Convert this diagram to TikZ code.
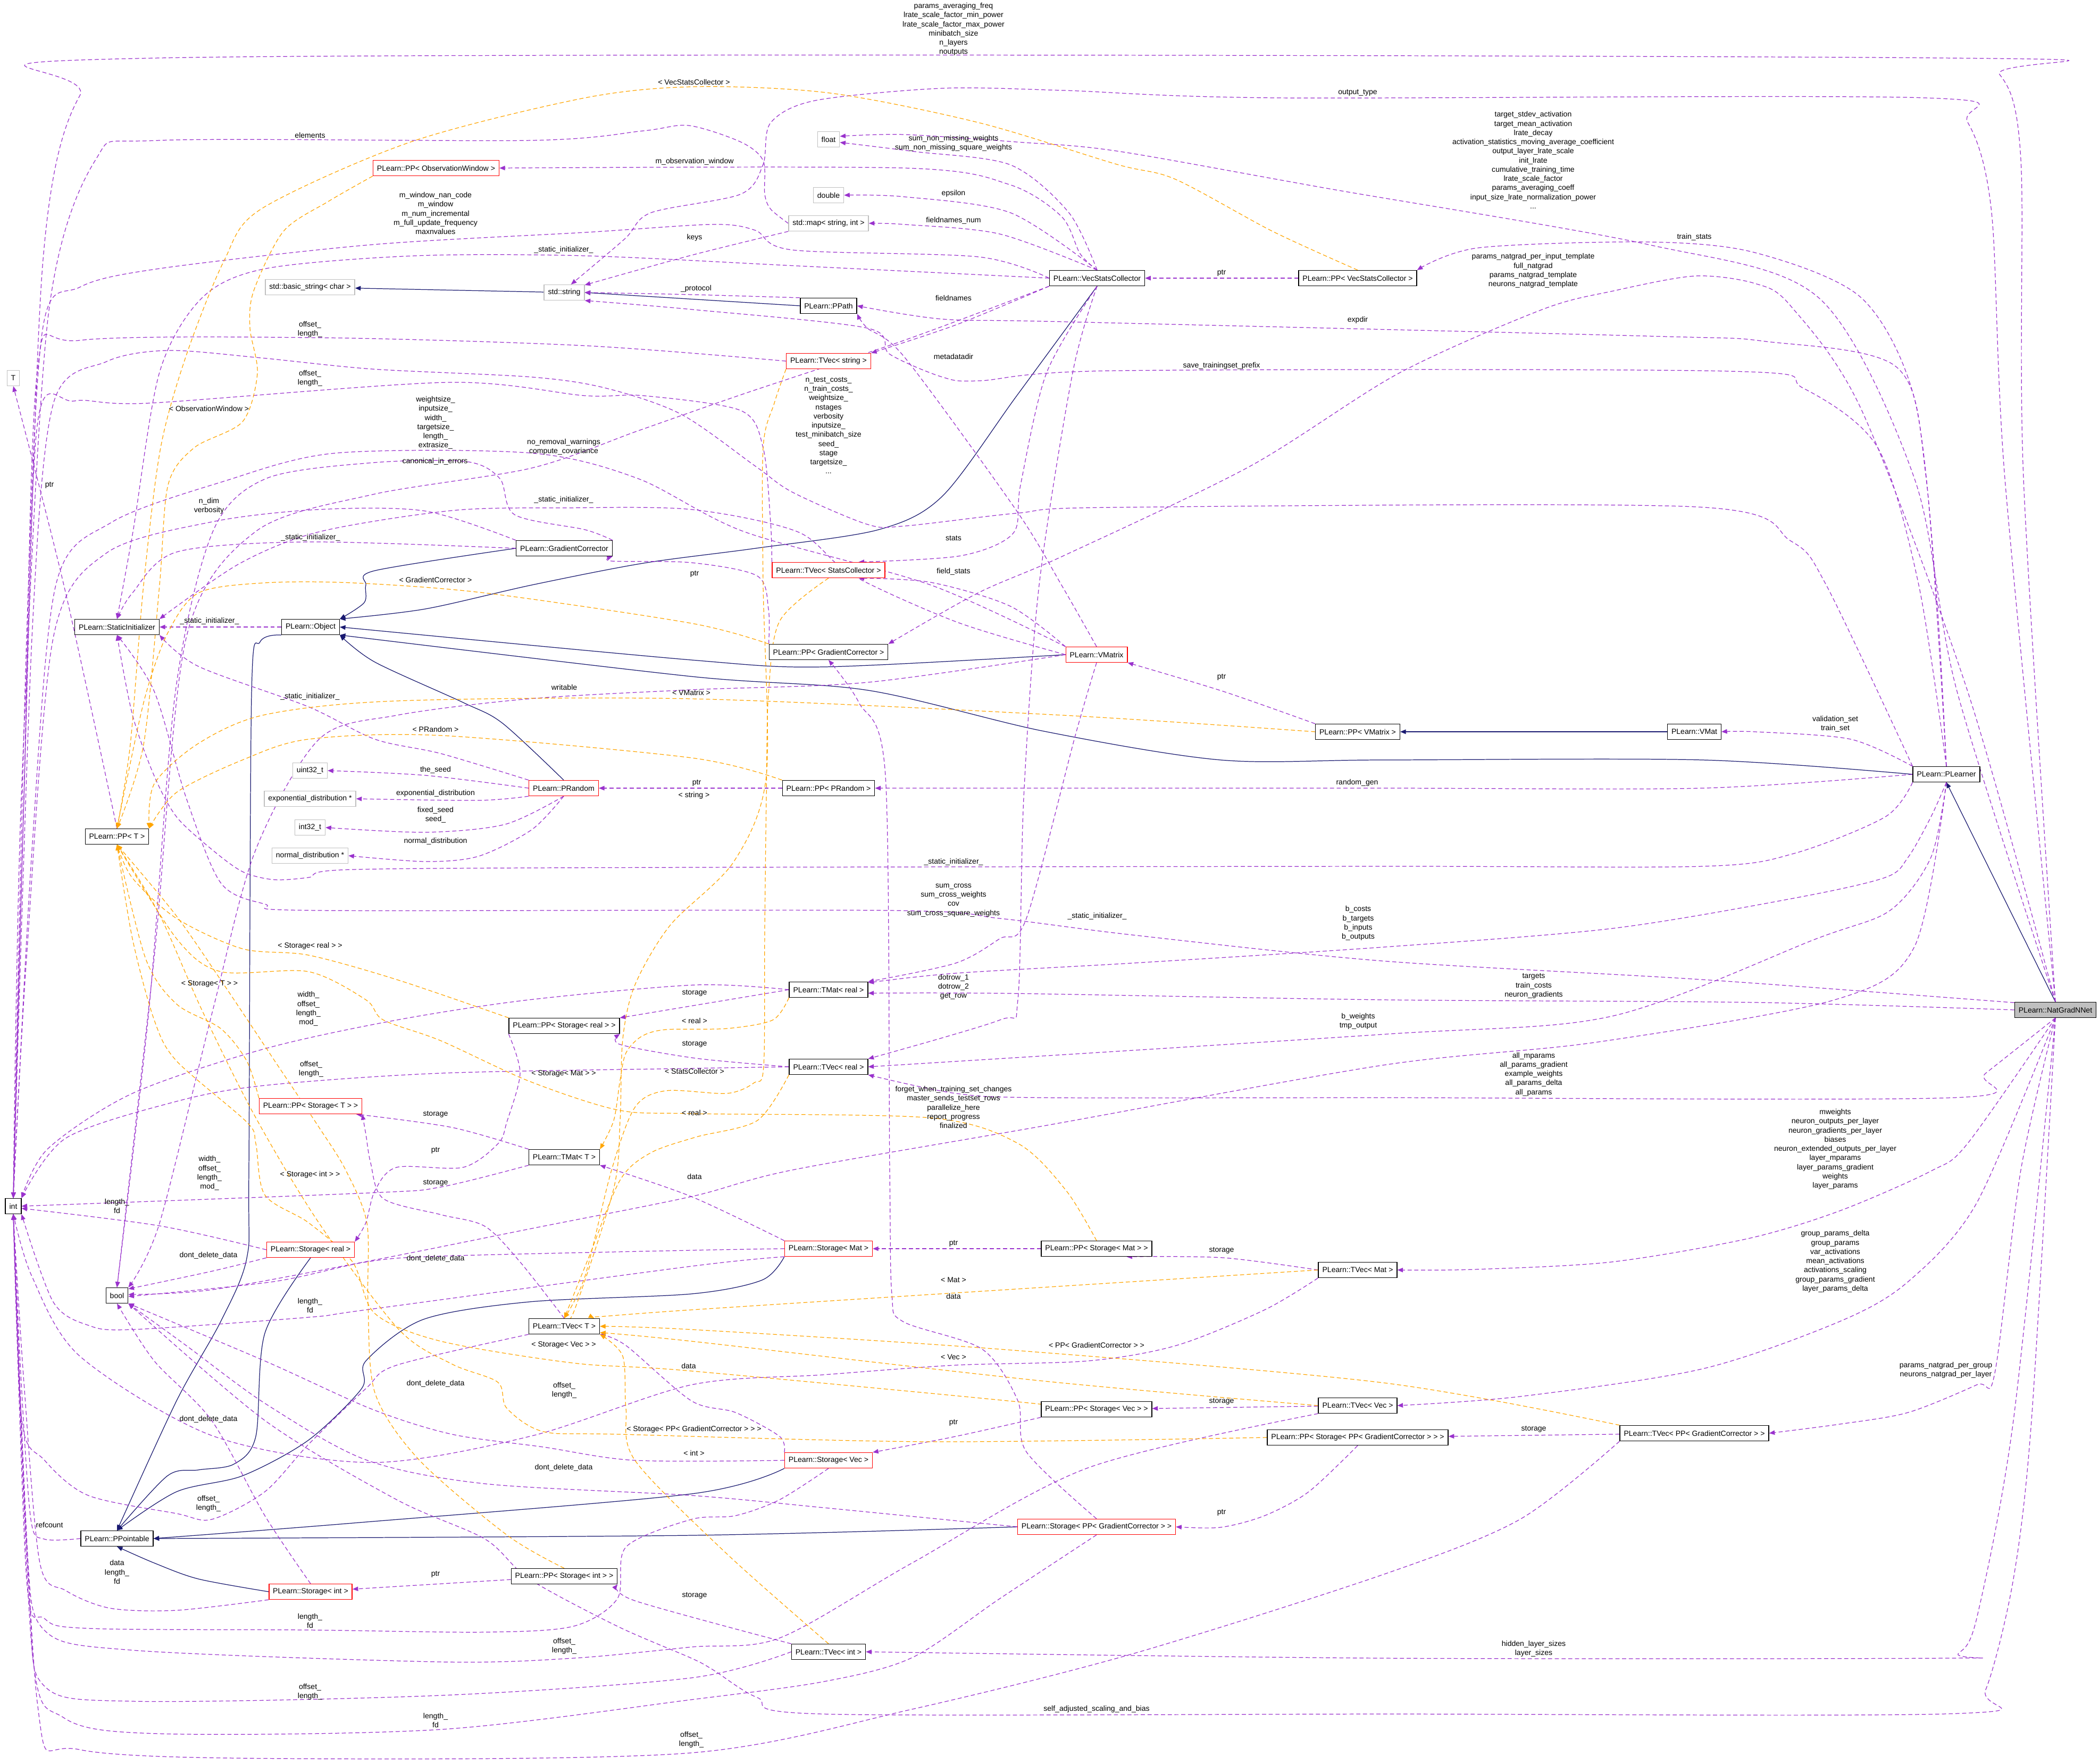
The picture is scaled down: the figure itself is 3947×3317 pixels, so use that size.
\documentclass[tikz,border=0pt]{standalone}
\usepackage{fontspec}
\setmainfont{Liberation Sans}
\usetikzlibrary{arrows.meta}
\definecolor{edgepurple}{RGB}{154,50,205}
\definecolor{tplorange}{RGB}{255,165,0}
\definecolor{inhnavy}{RGB}{25,25,112}
\definecolor{extgray}{RGB}{191,191,191}
\pgfdeclarelayer{bg}
\pgfdeclarelayer{edges}
\pgfsetlayers{bg,edges,main}

\begin{document}
\begin{tikzpicture}[x=0.01cm, y=-0.01cm,
    cls/.style={rectangle, draw=black, line width=0.4pt, fill=white, font=\fontsize{4}{4.9}\selectfont, inner xsep=2.1pt, inner ysep=0pt, minimum height=8.2pt},
    ext/.style={cls, draw=extgray},
    trunc/.style={cls, draw=red},
    mainbox/.style={cls, fill=extgray},
    lbl/.style={font=\fontsize{4}{4.9}\selectfont, align=center, inner sep=0pt},
    mem/.style={draw=edgepurple, line width=0.35pt, dash pattern=on 2.2pt off 1.4pt, -{Triangle[length=3pt,width=2.4pt]}},
    tpl/.style={mem, draw=tplorange},
    inh/.style={draw=inhnavy, line width=0.35pt, -{Triangle[length=3pt,width=2.4pt]}}
]
    \useasboundingbox (0,0) rectangle (3947,3317);
    \begin{pgfonlayer}{bg}
        \fill[white] (0,0) rectangle (3947,3317);
    \end{pgfonlayer}

    % classes
    \node[trunc] (obswin) at (820,316) {PLearn::PP< ObservationWindow >};
    \node[ext] (bstr) at (583,540) {std::basic\_string< char >};
    \node[ext] (str) at (1061,550) {std::string};
    \node[ext] (T) at (25,711) {T};
    \node[cls] (gc) at (1061,1031) {PLearn::GradientCorrector};
    \node[ext] (flt) at (1558,262) {float};
    \node[ext] (dbl) at (1558,367) {double};
    \node[ext] (smap) at (1558,420) {std::map< string, int >};
    \node[cls] (ppath) at (1558,575) {PLearn::PPath};
    \node[trunc] (tvstr) at (1558,679) {PLearn::TVec< string >};
    \node[cls] (vsc) at (2063,523) {PLearn::VecStatsCollector};
    \node[cls] (ppvsc) at (2553,523) {PLearn::PP< VecStatsCollector >};
    \node[trunc] (tvsc) at (1558,1072) {PLearn::TVec< StatsCollector >};
    \node[cls] (sinit) at (220,1179) {PLearn::StaticInitializer};
    \node[cls] (obj) at (584,1179) {PLearn::Object};
    \node[trunc] (prand) at (1060,1482) {PLearn::PRandom};
    \node[ext] (u32) at (583,1449) {uint32\_t};
    \node[ext] (expd) at (583,1502) {exponential\_distribution *};
    \node[ext] (i32) at (583,1556) {int32\_t};
    \node[ext] (normd) at (583,1609) {normal\_distribution *};
    \node[cls] (ppt) at (220,1573) {PLearn::PP< T >};
    \node[cls] (ppgc) at (1558,1226) {PLearn::PP< GradientCorrector >};
    \node[trunc] (vmatrix) at (2062,1231) {PLearn::VMatrix};
    \node[cls] (ppvm) at (2553,1376) {PLearn::PP< VMatrix >};
    \node[cls] (vmat) at (3186,1376) {PLearn::VMat};
    \node[cls] (ppprand) at (1558,1482) {PLearn::PP< PRandom >};
    \node[cls] (plearner) at (3660,1456) {PLearn::PLearner};
    \node[mainbox] (nnet) at (3865,1899) {PLearn::NatGradNNet};
    \node[cls] (tmatr) at (1558,1861) {PLearn::TMat< real >};
    \node[cls] (tvecr) at (1558,2006) {PLearn::TVec< real >};
    \node[cls] (ppsr) at (1061,1929) {PLearn::PP< Storage< real > >};
    \node[trunc] (ppst) at (584,2080) {PLearn::PP< Storage< T > >};
    \node[cls] (tmatt) at (1061,2176) {PLearn::TMat< T >};
    \node[cls] (nint) at (25,2268) {int};
    \node[cls] (nbool) at (220,2436) {bool};
    \node[trunc] (stor) at (584,2350) {PLearn::Storage< real >};
    \node[cls] (tvect) at (1061,2494) {PLearn::TVec< T >};
    \node[trunc] (stmat) at (1558,2348) {PLearn::Storage< Mat >};
    \node[cls] (ppsm) at (2062,2348) {PLearn::PP< Storage< Mat > >};
    \node[cls] (tvmat) at (2553,2388) {PLearn::TVec< Mat >};
    \node[cls] (ppsv) at (2062,2650) {PLearn::PP< Storage< Vec > >};
    \node[cls] (tvvec) at (2553,2643) {PLearn::TVec< Vec >};
    \node[cls] (ppspgc) at (2553,2703) {PLearn::PP< Storage< PP< GradientCorrector > > >};
    \node[cls] (tvpgc) at (3186,2695) {PLearn::TVec< PP< GradientCorrector > >};
    \node[trunc] (stvec) at (1558,2746) {PLearn::Storage< Vec >};
    \node[trunc] (stpgc) at (2062,2871) {PLearn::Storage< PP< GradientCorrector > >};
    \node[cls] (pptbl) at (220,2893) {PLearn::PPointable};
    \node[cls] (ppsi) at (1061,2964) {PLearn::PP< Storage< int > >};
    \node[trunc] (stint) at (584,2993) {PLearn::Storage< int >};
    \node[cls] (tvint) at (1558,3106) {PLearn::TVec< int >};

    % edge labels
    \node[lbl] (l1) at (1793,55) {params\_averaging\_freq\\lrate\_scale\_factor\_min\_power\\lrate\_scale\_factor\_max\_power\\minibatch\_size\\n\_layers\\noutputs};
    \node[lbl] (l2) at (1305,154) {< VecStatsCollector >};
    \node[lbl] (l3) at (2553,174) {output\_type};
    \node[lbl] (l4) at (583,254) {elements};
    \node[lbl] (l5) at (1793,269) {sum\_non\_missing\_weights\\sum\_non\_missing\_square\_weights};
    \node[lbl] (l6) at (2883,301) {target\_stdev\_activation\\target\_mean\_activation\\lrate\_decay\\activation\_statistics\_moving\_average\_coefficient\\output\_layer\_lrate\_scale\\init\_lrate\\cumulative\_training\_time\\lrate\_scale\_factor\\params\_averaging\_coeff\\input\_size\_lrate\_normalization\_power\\...};
    \node[lbl] (l7) at (1306,304) {m\_observation\_window};
    \node[lbl] (l8) at (1793,364) {epsilon};
    \node[lbl] (l9) at (819,401) {m\_window\_nan\_code\\m\_window\\m\_num\_incremental\\m\_full\_update\_frequency\\maxnvalues};
    \node[lbl] (l10) at (1793,415) {fieldnames\_num};
    \node[lbl] (l11) at (1306,447) {keys};
    \node[lbl] (l12) at (3186,446) {train\_stats};
    \node[lbl] (l13) at (1060,470) {\_static\_initializer\_};
    \node[lbl] (l14) at (2883,509) {params\_natgrad\_per\_input\_template\\full\_natgrad\\params\_natgrad\_template\\neurons\_natgrad\_template};
    \node[lbl] (l15) at (2297,513) {ptr};
    \node[lbl] (l16) at (1309,543) {\_protocol};
    \node[lbl] (l17) at (1793,560) {fieldnames};
    \node[lbl] (l18) at (2553,602) {expdir};
    \node[lbl] (l19) at (583,619) {offset\_\\length\_};
    \node[lbl] (l20) at (1793,670) {metadatadir};
    \node[lbl] (l21) at (2297,688) {save\_trainingset\_prefix};
    \node[lbl] (l22) at (583,711) {offset\_\\length\_};
    \node[lbl] (l23) at (1558,800) {n\_test\_costs\_\\n\_train\_costs\_\\weightsize\_\\nstages\\verbosity\\inputsize\_\\test\_minibatch\_size\\seed\_\\stage\\targetsize\_\\...};
    \node[lbl] (l24) at (393,768) {< ObservationWindow >};
    \node[lbl] (l25) at (819,795) {weightsize\_\\inputsize\_\\width\_\\targetsize\_\\length\_\\extrasize\_};
    \node[lbl] (l26) at (1060,840) {no\_removal\_warnings\\compute\_covariance};
    \node[lbl] (l27) at (818,868) {canonical\_in\_errors};
    \node[lbl] (l28) at (93,912) {ptr};
    \node[lbl] (l29) at (1060,940) {\_static\_initializer\_};
    \node[lbl] (l30) at (393,951) {n\_dim\\verbosity};
    \node[lbl] (l31) at (1793,1012) {stats};
    \node[lbl] (l32) at (584,1011) {\_static\_initializer\_};
    \node[lbl] (l33) at (1306,1079) {ptr};
    \node[lbl] (l34) at (1793,1075) {field\_stats};
    \node[lbl] (l35) at (819,1090) {< GradientCorrector >};
    \node[lbl] (l36) at (394,1168) {\_static\_initializer\_};
    \node[lbl] (l37) at (2297,1273) {ptr};
    \node[lbl] (l38) at (1061,1292) {writable};
    \node[lbl] (l39) at (1300,1302) {< VMatrix >};
    \node[lbl] (l40) at (583,1310) {\_static\_initializer\_};
    \node[lbl] (l41) at (819,1371) {< PRandom >};
    \node[lbl] (l42) at (3451,1361) {validation\_set\\train\_set};
    \node[lbl] (l43) at (819,1448) {the\_seed};
    \node[lbl] (l44) at (1310,1472) {ptr};
    \node[lbl] (l45) at (2552,1472) {random\_gen};
    \node[lbl] (l46) at (819,1492) {exponential\_distribution};
    \node[lbl] (l47) at (1305,1496) {< string >};
    \node[lbl] (l48) at (819,1532) {fixed\_seed\\seed\_};
    \node[lbl] (l49) at (819,1582) {normal\_distribution};
    \node[lbl] (l50) at (1793,1621) {\_static\_initializer\_};
    \node[lbl] (l51) at (1793,1693) {sum\_cross\\sum\_cross\_weights\\cov\\sum\_cross\_square\_weights};
    \node[lbl] (l52) at (2063,1723) {\_static\_initializer\_};
    \node[lbl] (l53) at (2554,1736) {b\_costs\\b\_targets\\b\_inputs\\b\_outputs};
    \node[lbl] (l54) at (583,1779) {< Storage< real > >};
    \node[lbl] (l55) at (394,1850) {< Storage< T > >};
    \node[lbl] (l56) at (2884,1854) {targets\\train\_costs\\neuron\_gradients};
    \node[lbl] (l57) at (1793,1856) {dotrow\_1\\dotrow\_2\\get\_row};
    \node[lbl] (l58) at (1306,1867) {storage};
    \node[lbl] (l59) at (580,1897) {width\_\\offset\_\\length\_\\mod\_};
    \node[lbl] (l60) at (1306,1919) {< real >};
    \node[lbl] (l61) at (2554,1920) {b\_weights\\tmp\_output};
    \node[lbl] (l62) at (1306,1963) {storage};
    \node[lbl] (l63) at (585,2010) {offset\_\\length\_};
    \node[lbl] (l64) at (1306,2014) {< StatsCollector >};
    \node[lbl] (l65) at (1060,2019) {< Storage< Mat > >};
    \node[lbl] (l66) at (2884,2020) {all\_mparams\\all\_params\_gradient\\example\_weights\\all\_params\_delta\\all\_params};
    \node[lbl] (l67) at (1793,2082) {forget\_when\_training\_set\_changes\\master\_sends\_testset\_rows\\parallelize\_here\\report\_progress\\finalized};
    \node[lbl] (l68) at (1306,2092) {< real >};
    \node[lbl] (l69) at (819,2095) {storage};
    \node[lbl] (l70) at (3451,2161) {mweights\\neuron\_outputs\_per\_layer\\neuron\_gradients\_per\_layer\\biases\\neuron\_extended\_outputs\_per\_layer\\layer\_mparams\\layer\_params\_gradient\\weights\\layer\_params};
    \node[lbl] (l71) at (819,2163) {ptr};
    \node[lbl] (l72) at (394,2206) {width\_\\offset\_\\length\_\\mod\_};
    \node[lbl] (l73) at (583,2209) {< Storage< int > >};
    \node[lbl] (l74) at (1306,2212) {data};
    \node[lbl] (l75) at (819,2224) {storage};
    \node[lbl] (l76) at (220,2268) {length\_\\fd};
    \node[lbl] (l77) at (1793,2338) {ptr};
    \node[lbl] (l78) at (2297,2351) {storage};
    \node[lbl] (l79) at (392,2361) {dont\_delete\_data};
    \node[lbl] (l80) at (819,2367) {dont\_delete\_data};
    \node[lbl] (l81) at (3451,2372) {group\_params\_delta\\group\_params\\var\_activations\\mean\_activations\\activations\_scaling\\group\_params\_gradient\\layer\_params\_delta};
    \node[lbl] (l82) at (1793,2407) {< Mat >};
    \node[lbl] (l83) at (1793,2437) {data};
    \node[lbl] (l84) at (583,2455) {length\_\\fd};
    \node[lbl] (l85) at (1060,2529) {< Storage< Vec > >};
    \node[lbl] (l86) at (2062,2529) {< PP< GradientCorrector > >};
    \node[lbl] (l87) at (1793,2552) {< Vec >};
    \node[lbl] (l88) at (1295,2568) {data};
    \node[lbl] (l89) at (3659,2576) {params\_natgrad\_per\_group\\neurons\_natgrad\_per\_layer};
    \node[lbl] (l90) at (819,2602) {dont\_delete\_data};
    \node[lbl] (l91) at (1061,2614) {offset\_\\length\_};
    \node[lbl] (l92) at (2297,2635) {storage};
    \node[lbl] (l93) at (392,2669) {dont\_delete\_data};
    \node[lbl] (l94) at (1793,2675) {ptr};
    \node[lbl] (l95) at (2884,2687) {storage};
    \node[lbl] (l96) at (1305,2688) {< Storage< PP< GradientCorrector > > >};
    \node[lbl] (l97) at (1305,2732) {< int >};
    \node[lbl] (l98) at (1060,2760) {dont\_delete\_data};
    \node[lbl] (l99) at (392,2827) {offset\_\\length\_};
    \node[lbl] (l100) at (2297,2844) {ptr};
    \node[lbl] (l101) at (93,2867) {refcount};
    \node[lbl] (l102) at (220,2956) {data\\length\_\\fd};
    \node[lbl] (l103) at (819,2960) {ptr};
    \node[lbl] (l104) at (1306,3000) {storage};
    \node[lbl] (l105) at (583,3048) {length\_\\fd};
    \node[lbl] (l106) at (1061,3095) {offset\_\\length\_};
    \node[lbl] (l107) at (2884,3100) {hidden\_layer\_sizes\\layer\_sizes};
    \node[lbl] (l108) at (583,3181) {offset\_\\length\_};
    \node[lbl] (l109) at (2062,3214) {self\_adjusted\_scaling\_and\_bias};
    \node[lbl] (l110) at (819,3235) {length\_\\fd};
    \node[lbl] (l111) at (1300,3271) {offset\_\\length\_};

    \begin{pgfonlayer}{edges}
    % inheritance
    \draw[inh] (str) -- (bstr);
    \draw[inh] (ppath.west) -- (str.east);
    \draw[inh] plot[smooth] coordinates {(vsc.south) (1912,744) (1772,933) (1652,996) (1421,1031) (1210,1059) (1000,1100) (800,1145) (obj.north east)};
    \draw[inh] plot[smooth] coordinates {(gc.west) (705,1073) (688,1100) (685,1133) (obj.north east)};
    \draw[inh] plot[smooth] coordinates {(vmatrix.west) (1549,1254) (1300,1241) (obj.east)};
    \draw[inh] plot[smooth] coordinates {(plearner.west) (3201,1429) (2600,1429) (2295,1429) (1963,1375) (1632,1298) (1300,1272) (obj.south east)};
    \draw[inh] plot[smooth] coordinates {(prand.north) (945,1360) (871,1321) (705,1245) (obj.south east)};
    \draw[inh] plot[smooth] coordinates {(obj.south west) (489,1207) (473,1306) (468,2200) (464,2366) (415,2485) (332,2634) (pptbl.north)};
    \draw[inh] plot[smooth] coordinates {(stor.south) (498,2507) (481,2701) (440,2753) (373,2764) (315,2775) (pptbl.north)};
    \draw[inh] plot[smooth] coordinates {(stmat.south west) (1433,2407) (1300,2433) (995,2448) (796,2481) (688,2559) (680,2611) (580,2708) (456,2775) (332,2805) (pptbl.north)};
    \draw[inh] plot[smooth] coordinates {(stvec.south west) (1300,2809) (663,2864) (pptbl.east)};
    \draw[inh] plot[smooth] coordinates {(stpgc.west) (1300,2887) (pptbl.east)};
    \draw[inh] plot[smooth] coordinates {(stint.west) (373,2969) (290,2939) (pptbl.south)};
    \draw[inh] (vmat) -- (ppvm);
    \draw[inh] (nnet.north) -- (plearner.south);

    % members
    \draw[mem] plot[smooth] coordinates {(nnet.north) (3805,900) (3800,300) (3760,140) (3650,109) (300,109) (150,180) (80,500) (45,1500) (nint.north)};
    \draw[mem] plot[smooth] coordinates {(nnet.north) (3770,900) (3745,400) (3700,230) (3620,184) (2400,184) (2000,170) (1772,166) (1533,189) (1449,231) (1435,309) (1393,365) (1224,400) (1175,449) (str.50)};
    \draw[mem] plot[smooth] coordinates {(nnet.north) (3680,1300) (3600,900) (3420,560) (3100,460) (2500,355) (2100,284) (1912,267) (1700,253) (flt.15)};
    \draw[mem] plot[smooth] coordinates {(plearner.north) (3640,1100) (3600,750) (3500,560) (3300,475) (3100,455) (2780,466) (ppvsc.north east)};
    \draw[mem] plot[smooth] coordinates {(nnet.north) (3700,1300) (3501,772) (3367,575) (3300,533) (3187,519) (3034,547) (2900,582) (2630,702) (2350,877) (2000,1045) (1839,1115) (ppgc.north east)};
    \draw[mem] (ppvsc) -- (vsc);
    \draw[mem] plot[smooth] coordinates {(vsc.north) (2031,477) (1996,407) (1898,347) (1702,316) (obswin.east)};
    \draw[mem] plot[smooth] coordinates {(vsc.north) (2010,400) (1900,310) (1720,285) (flt.-15)};
    \draw[mem] plot[smooth] coordinates {(vsc.north) (1900,400) (1700,370) (dbl.east)};
    \draw[mem] plot[smooth] coordinates {(vsc.north) (1880,440) (1700,422) (smap.east)};
    \draw[mem] plot[smooth] coordinates {(vsc.west) (1840,483) (1490,470) (1420,433) (1340,422) (1100,437) (700,460) (300,505) (150,540) (80,620) (50,1200) (nint.north)};
    \draw[mem] plot[smooth] coordinates {(smap.west) (1449,393) (1438,365) (1435,302) (1393,267) (1295,236) (1210,246) (1000,264) (300,264) (180,300) (90,600) (40,1500) (nint.north)};
    \draw[mem] plot[smooth] coordinates {(smap.south west) (1300,480) (str.20)};
    \draw[mem] plot[smooth] coordinates {(vsc.west) (1500,500) (1100,481) (780,481) (500,505) (380,560) (300,700) (250,1000) (sinit.north)};
    \draw[mem] plot[smooth] coordinates {(ppath.north west) (1302,554) (str.east)};
    \draw[mem] plot[smooth] coordinates {(vsc.south west) (1800,610) (tvstr.north east)};
    \draw[mem] plot[smooth] coordinates {(plearner.north) (3622,900) (3566,690) (3320,642) (3100,632) (2000,605) (1772,600) (ppath.east)};
    \draw[mem] plot[smooth] coordinates {(tvstr.west) (1100,650) (600,635) (150,640) (70,700) (45,1500) (nint.north)};
    \draw[mem] plot[smooth] coordinates {(vmatrix.north) (1996,1100) (1912,961) (1702,673) (1631,617) (ppath.south east)};
    \draw[mem] plot[smooth] coordinates {(plearner.north) (3608,1100) (3531,842) (3391,730) (3251,698) (2100,697) (1842,716) (1772,709) (1673,666) (1631,617) (1302,582) (str.south east)};
    \draw[mem] plot[smooth] coordinates {(tvsc.north west) (1449,982) (1435,842) (1393,772) (1210,744) (1100,744) (842,719) (281,758) (140,754) (70,800) (45,1500) (nint.north)};
    \draw[mem] plot[smooth] coordinates {(plearner.north west) (3434,1100) (3367,1017) (3187,953) (2100,954) (1912,965) (1702,989) (1631,986) (1491,926) (1421,877) (1281,779) (1140,730) (1000,709) (701,694) (491,673) (316,659) (200,680) (100,760) (60,1200) (nint.north)};
    \draw[mem] plot[smooth] coordinates {(vmatrix.north west) (1750,1100) (1400,1000) (1200,900) (1000,852) (631,852) (421,905) (210,982) (105,1100) (60,1600) (nint.north)};
    \draw[mem] plot[smooth] coordinates {(vsc.south west) (1700,640) (1400,740) (1200,810) (1000,880) (700,930) (480,1000) (350,1200) (290,1800) (nbool.north)};
    \draw[mem] plot[smooth] coordinates {(gc.north east) (1100,996) (968,968) (940,900) (877,868) (701,870) (500,900) (400,1000) (330,1300) (280,1900) (nbool.north)};
    \draw[mem] plot[smooth] coordinates {(ppt.north) (120,1100) (T.south)};
    \draw[mem] plot[smooth] coordinates {(vmatrix.west) (1800,1170) (1600,1080) (1500,1000) (1300,958) (1060,955) (850,960) (600,1000) (450,1060) (sinit.north east)};
    \draw[mem] plot[smooth] coordinates {(gc.north west) (800,961) (600,958) (400,981) (200,1040) (100,1200) (50,1800) (nint.north)};
    \draw[mem] plot[smooth] coordinates {(vsc.south) (1968,701) (1919,912) (1905,1003) (1807,1045) (tvsc.15)};
    \draw[mem] plot[smooth] coordinates {(gc.west) (580,1019) (332,1038) (249,1115) (sinit.north)};
    \draw[mem] plot[smooth] coordinates {(ppgc.north west) (1445,1145) (1424,1083) (1300,1058) (1150,1055) (gc.south east)};
    \draw[mem] plot[smooth] coordinates {(vmatrix.north west) (1900,1140) (1750,1095) (tvsc.-15)};
    \draw[mem] (obj) -- (sinit);
    \draw[mem] plot[smooth] coordinates {(ppvm.north west) (2300,1300) (vmatrix.south east)};
    \draw[mem] plot[smooth] coordinates {(vmatrix.west) (1632,1283) (1300,1297) (995,1314) (746,1345) (600,1390) (480,1600) (400,1900) (300,2300) (nbool.north east)};
    \draw[mem] plot[smooth] coordinates {(prand.north west) (829,1417) (705,1390) (580,1329) (373,1253) (sinit.south east)};
    \draw[mem] plot[smooth] coordinates {(prand.west) (800,1458) (u32.east)};
    \draw[mem] (ppprand) -- (prand);
    \draw[mem] plot[smooth] coordinates {(plearner.west) (3201,1482) (2600,1482) (ppprand.east)};
    \draw[mem] plot[smooth] coordinates {(prand.south west) (900,1505) (expd.east)};
    \draw[mem] plot[smooth] coordinates {(prand.south) (950,1550) (800,1565) (i32.east)};
    \draw[mem] plot[smooth] coordinates {(prand.south) (1000,1560) (900,1610) (800,1620) (normd.east)};
    \draw[mem] plot[smooth] coordinates {(plearner.north west) (3480,1390) (3300,1376) (vmat.east)};
    \draw[mem] plot[smooth] coordinates {(plearner.south west) (3545,1536) (3373,1605) (3201,1629) (2600,1629) (1300,1631) (663,1635) (580,1650) (514,1654) (456,1639) (398,1597) (332,1536) (290,1459) (249,1344) (sinit.south)};
    \draw[mem] plot[smooth] coordinates {(vsc.south) (2017,701) (1954,1100) (1925,1500) (1914,1880) (1880,1918) (tvecr.north east)};
    \draw[mem] plot[smooth] coordinates {(vmatrix.south) (2022,1383) (1930,1727) (1880,1765) (1797,1811) (tmatr.north east)};
    \draw[mem] plot[smooth] coordinates {(nnet.170) (3201,1842) (2600,1807) (2129,1758) (1880,1727) (1673,1712) (600,1712) (498,1700) (415,1660) (350,1500) (290,1300) (sinit.south)};
    \draw[mem] plot[smooth] coordinates {(plearner.south) (3631,1536) (3588,1612) (3545,1650) (3373,1689) (3030,1746) (2600,1781) (2129,1811) (1797,1830) (tmatr.10)};
    \draw[mem] plot[smooth] coordinates {(nnet.west) (3300,1885) (2600,1880) (1900,1868) (tmatr.-5)};
    \draw[mem] plot[smooth] coordinates {(tmatr.west) (1309,1890) (ppsr.north east)};
    \draw[mem] plot[smooth] coordinates {(tmatr.west) (1309,1852) (995,1880) (746,1918) (498,1972) (249,2056) (90,2160) (nint.north east)};
    \draw[mem] plot[smooth] coordinates {(plearner.south) (3631,1612) (3554,1712) (3416,1765) (3030,1911) (2600,1945) (tvecr.east)};
    \draw[mem] plot[smooth] coordinates {(tvecr.west) (1309,1990) (1166,1964) (ppsr.south east)};
    \draw[mem] plot[smooth] coordinates {(tvecr.west) (1300,2009) (829,2018) (498,2041) (332,2071) (124,2140) (nint.north east)};
    \draw[mem] plot[smooth] coordinates {(nnet.south) (3734,2018) (3674,2064) (2600,2064) (1963,2064) (1797,2056) (tvecr.south east)};
    \draw[mem] plot[smooth] coordinates {(plearner.south) (3600,1780) (3450,1880) (3000,1960) (2600,2003) (1963,2117) (1490,2200) (1300,2250) (1000,2310) (700,2370) (400,2425) (nbool.5)};
    \draw[mem] plot[smooth] coordinates {(tmatt.north west) (850,2120) (ppst.-10)};
    \draw[mem] plot[smooth] coordinates {(nnet.south) (3700,2150) (3631,2202) (3459,2277) (3287,2329) (3030,2373) (2772,2387) (tvmat.east)};
    \draw[mem] plot[smooth] coordinates {(ppsr.south west) (978,2018) (953,2110) (937,2150) (871,2195) (746,2195) (705,2239) (688,2299) (stor.north east)};
    \draw[mem] plot[smooth] coordinates {(tmatt.south west) (829,2232) (697,2243) (nint.east)};
    \draw[mem] plot[smooth] coordinates {(stmat.north west) (1300,2250) (tmatt.south east)};
    \draw[mem] plot[smooth] coordinates {(tvect.north) (978,2373) (912,2306) (829,2284) (721,2254) (697,2187) (688,2133) (ppst.south east)};
    \draw[mem] plot[smooth] coordinates {(stor.west) (300,2305) (nint.-15)};
    \draw[mem] (ppsm) -- (stmat);
    \draw[mem] plot[smooth] coordinates {(tvmat.west) (2300,2365) (ppsm.-15)};
    \draw[mem] plot[smooth] coordinates {(stor.south west) (400,2390) (nbool.30)};
    \draw[mem] plot[smooth] coordinates {(stmat.west) (1300,2351) (829,2362) (688,2373) (514,2410) (nbool.-5)};
    \draw[mem] plot[smooth] coordinates {(nnet.south) (3717,2262) (3588,2410) (3459,2485) (3201,2574) (2858,2626) (tvvec.east)};
    \draw[mem] plot[smooth] coordinates {(stpgc.north) (1930,2730) (1914,2634) (1847,2537) (1698,2485) (1677,2433) (1673,2200) (1665,1459) (1615,1321) (ppgc.south)};
    \draw[mem] plot[smooth] coordinates {(stmat.south west) (1300,2381) (688,2463) (580,2477) (249,2500) (166,2492) (100,2448) (nint.south east)};
    \draw[mem] plot[smooth] coordinates {(stvec.north west) (1466,2701) (1383,2656) (1300,2634) (1177,2530) (tvect.south east)};
    \draw[mem] plot[smooth] coordinates {(nnet.south) (3800,2200) (3751,2582) (3717,2604) (3588,2656) (3459,2678) (tvpgc.east)};
    \draw[mem] plot[smooth] coordinates {(stvec.west) (1194,2746) (1022,2721) (850,2697) (700,2650) (500,2560) (nbool.south east)};
    \draw[mem] plot[smooth] coordinates {(tvmat.south west) (2378,2463) (2212,2530) (2046,2559) (1797,2567) (1549,2585) (1300,2604) (1000,2700) (700,2750) (400,2700) (150,2550) (60,2400) (nint.south)};
    \draw[mem] (tvvec) -- (ppsv);
    \draw[mem] plot[smooth] coordinates {(stint.north) (498,2850) (398,2671) (290,2559) (nbool.south)};
    \draw[mem] plot[smooth] coordinates {(ppsv.south west) (1797,2701) (stvec.north east)};
    \draw[mem] (tvpgc) -- (ppspgc);
    \draw[mem] plot[smooth] coordinates {(stpgc.west) (1549,2835) (1300,2812) (912,2790) (688,2745) (500,2640) (350,2530) (nbool.south east)};
    \draw[mem] plot[smooth] coordinates {(tvect.south west) (746,2567) (688,2611) (580,2716) (498,2805) (398,2857) (332,2846) (166,2812) (83,2745) (41,2671) (nint.south)};
    \draw[mem] plot[smooth] coordinates {(ppspgc.south) (2461,2805) (2378,2850) (2295,2872) (stpgc.east)};
    \draw[mem] plot[smooth] coordinates {(pptbl.west) (83,2894) (58,2857) (40,2600) (nint.south)};
    \draw[mem] plot[smooth] coordinates {(stint.south west) (332,3028) (207,3024) (124,2991) (75,2939) (45,2600) (nint.south)};
    \draw[mem] (ppsi) -- (stint);
    \draw[mem] plot[smooth] coordinates {(tvint.north west) (1194,3010) (ppsi.south east)};
    \draw[mem] plot[smooth] coordinates {(stvec.south) (1466,2820) (1383,2850) (1300,2857) (1177,2909) (1161,3006) (1078,3058) (912,3069) (580,3065) (166,3062) (83,3043) (50,2969) (nint.south)};
    \draw[mem] plot[smooth] coordinates {(tvvec.south west) (2046,2760) (1715,2939) (1466,3080) (1300,3097) (1078,3118) (829,3125) (249,3103) (83,3065) (50,2900) (nint.south)};
    \draw[mem] plot[smooth] coordinates {(nnet.south) (3786,2671) (3717,3043) (3682,3110) (3657,3118) (2600,3118) (tvint.east)};
    \draw[mem] plot[smooth] coordinates {(tvint.west) (1300,3155) (829,3188) (249,3199) (83,3170) (55,3000) (nint.south)};
    \draw[mem] plot[smooth] coordinates {(nnet.south) (3820,2671) (3786,2969) (3734,3177) (3682,3222) (2600,3223) (1549,3223) (1424,3192) (1341,3140) (1300,3118) (1161,3058) (995,2969) (912,2894) (746,2820) (498,2671) (nbool.south east)};
    \draw[mem] plot[smooth] coordinates {(stpgc.south) (1880,3006) (1715,3117) (1549,3162) (1300,3196) (829,3252) (300,3260) (120,3230) (60,3100) (nint.south)};
    \draw[mem] plot[smooth] coordinates {(tvpgc.south west) (2858,2857) (2600,2961) (2129,3110) (1715,3214) (1300,3296) (580,3307) (150,3290) (70,3200) (nint.south)};

    % template instances
    \draw[tpl] plot[smooth] coordinates {(obswin.south west) (617,379) (533,435) (477,547) (470,617) (484,702) (456,793) (365,842) (316,912) (300,1100) (270,1400) (ppt.north)};
    \draw[tpl] plot[smooth] coordinates {(ppvsc.north) (2393,435) (2210,337) (2100,309) (1842,231) (1561,175) (1309,163) (1100,184) (772,267) (491,393) (421,491) (351,666) (302,842) (270,1100) (245,1400) (ppt.north)};
    \draw[tpl] plot[smooth] coordinates {(ppgc.north west) (1300,1172) (912,1115) (663,1096) (497,1096) (373,1115) (315,1191) (274,1306) (240,1459) (ppt.north)};
    \draw[tpl] plot[smooth] coordinates {(ppvm.west) (2000,1345) (1300,1314) (746,1318) (498,1344) (373,1398) (290,1474) (ppt.north east)};
    \draw[tpl] plot[smooth] coordinates {(ppprand.north west) (1300,1425) (829,1383) (580,1390) (456,1429) (332,1490) (ppt.north east)};
    \draw[tpl] plot[smooth] coordinates {(ppsr.north west) (746,1842) (580,1796) (456,1784) (332,1727) (249,1651) (ppt.south)};
    \draw[tpl] plot[smooth] coordinates {(ppst.north west) (464,1995) (415,1934) (332,1888) (274,1803) (ppt.south)};
    \draw[tpl] plot[smooth] coordinates {(ppsm.north) (2005,2239) (1914,2150) (1750,2102) (1300,2094) (1161,2087) (995,2033) (829,1957) (721,1918) (688,1880) (580,1827) (415,1827) (332,1765) (ppt.south)};
    \draw[tpl] plot[smooth] coordinates {(ppsv.west) (1963,2641) (1300,2578) (1078,2563) (829,2522) (705,2470) (663,2373) (580,2299) (498,2247) (481,2150) (464,2110) (332,1995) (290,1918) (249,1765) (ppt.south)};
    \draw[tpl] plot[smooth] coordinates {(ppsi.north) (954,2887) (788,2745) (705,2619) (692,2450) (690,2300) (650,2200) (600,2120) (520,2000) (420,1850) (330,1720) (ppt.south)};
    \draw[tpl] plot[smooth] coordinates {(ppspgc.west) (1750,2711) (1166,2697) (1022,2692) (953,2648) (936,2599) (850,2565) (750,2500) (600,2300) (480,2100) (380,1900) (300,1720) (ppt.south)};
    \draw[tpl] plot[smooth] coordinates {(tvstr.south west) (1456,758) (1435,842) (1435,1100) (1441,1459) (1380,1620) (1260,1740) (1194,1852) (1171,1954) (1166,2107) (1154,2235) (1080,2464) (tvect.north)};
    \draw[tpl] plot[smooth] coordinates {(tvsc.south) (1466,1168) (1445,1306) (1441,1500) (1438,1750) (1436,2005) (1418,2036) (1367,2056) (1252,2051) (1194,2082) (1150,2200) (1100,2400) (tvect.north)};
    \draw[tpl] plot[smooth] coordinates {(tmatr.south west) (1453,1918) (1367,1934) (1252,1936) (1206,1949) (1177,1980) (1166,2031) (1154,2107) (tmatt.north east)};
    \draw[tpl] plot[smooth] coordinates {(tvecr.south west) (1424,2107) (1309,2138) (1223,2168) (1166,2219) (1108,2362) (tvect.north)};
    \draw[tpl] plot[smooth] coordinates {(tvmat.west) (1300,2463) (tvect.15)};
    \draw[tpl] plot[smooth] coordinates {(tvpgc.north west) (2600,2600) (1880,2537) (1300,2500) (tvect.east)};
    \draw[tpl] plot[smooth] coordinates {(tvvec.west) (1963,2597) (1300,2522) (tvect.-10)};
    \draw[tpl] plot[smooth] coordinates {(tvint.north) (1367,2922) (1194,2746) (1177,2648) (1171,2550) (tvect.south east)};
    \end{pgfonlayer}
\end{tikzpicture}
\end{document}
